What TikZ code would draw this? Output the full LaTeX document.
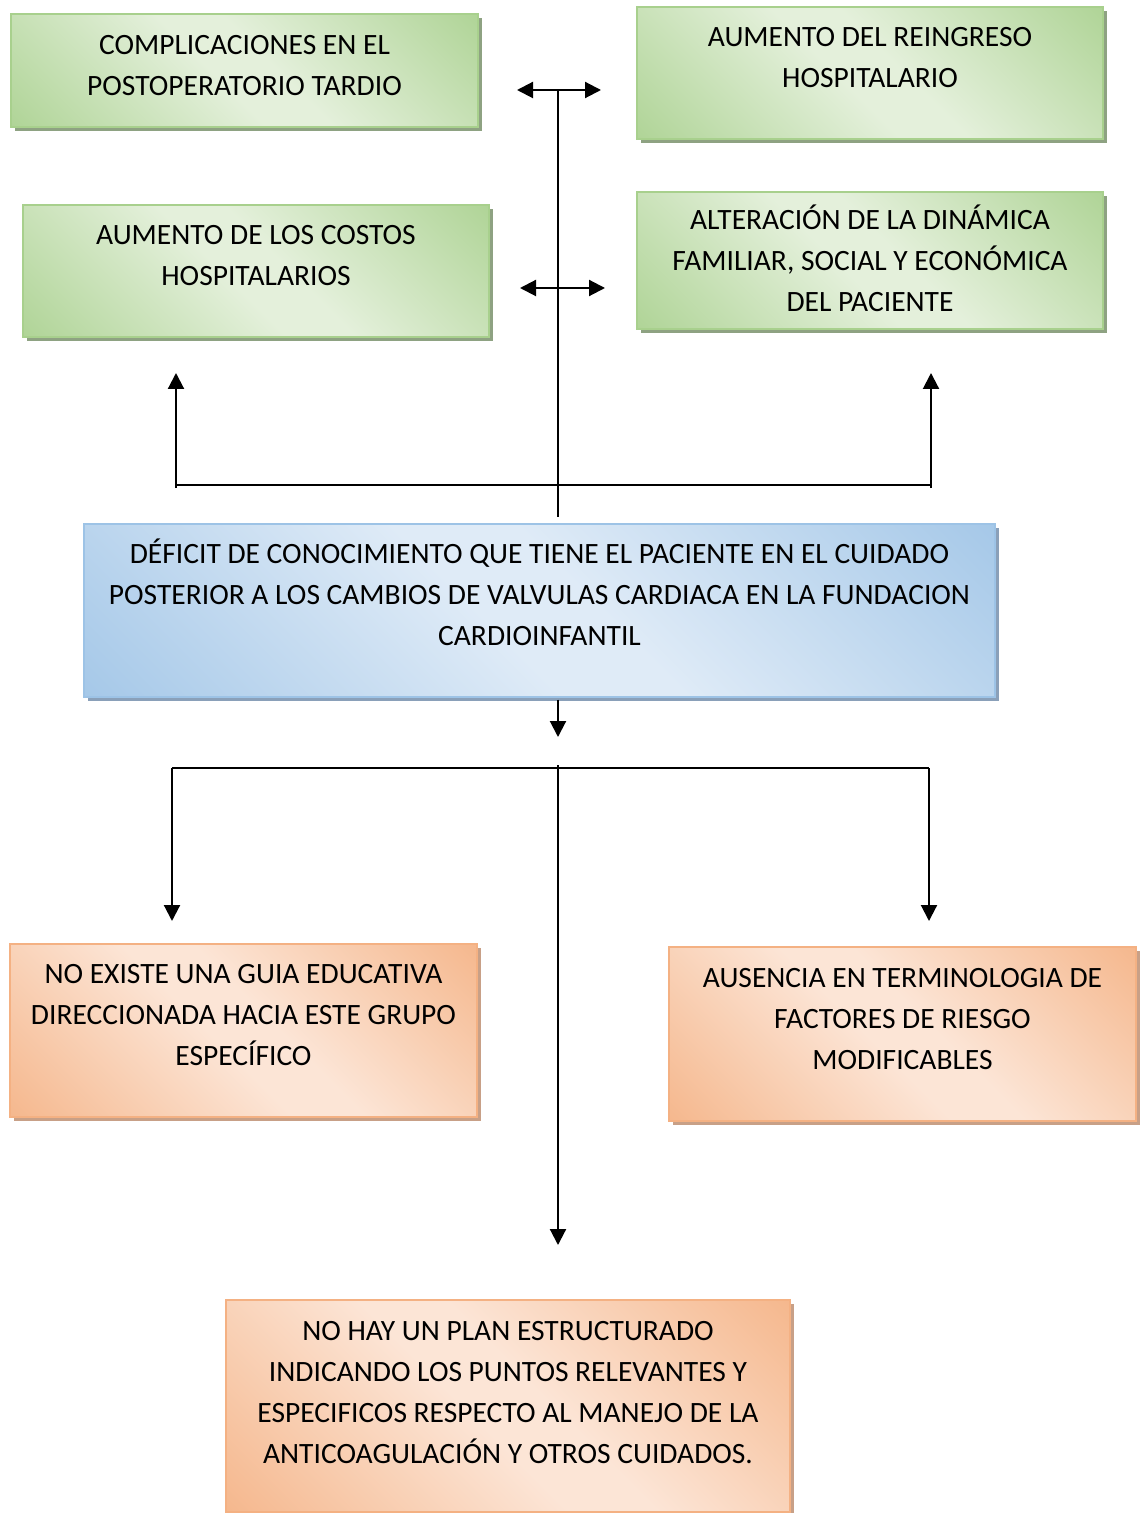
\documentclass[tikz,border=0pt]{standalone}
\usepackage{fontspec}
\setmainfont{Carlito}
\usetikzlibrary{arrows.meta,shadows}

% palette
\definecolor{gDark}{RGB}{168,208,141}
\definecolor{gLight}{RGB}{228,240,219}
\definecolor{gShadow}{RGB}{142,162,130}
\definecolor{bDark}{RGB}{157,195,230}
\definecolor{bLight}{RGB}{223,235,247}
\definecolor{bShadow}{RGB}{138,160,185}
\definecolor{oDark}{RGB}{244,177,131}
\definecolor{oLight}{RGB}{252,229,214}
\definecolor{oShadow}{RGB}{200,160,135}

% diagonal fades: dark corners, light middle band
\pgfdeclarehorizontalshading{greenfade}{100bp}{color(0bp)=(gDark); color(10bp)=(gDark); color(46bp)=(gLight); color(54bp)=(gLight); color(90bp)=(gDark); color(100bp)=(gDark)}
\pgfdeclarehorizontalshading{bluefade}{100bp}{color(0bp)=(bDark); color(10bp)=(bDark); color(46bp)=(bLight); color(54bp)=(bLight); color(90bp)=(bDark); color(100bp)=(bDark)}
\pgfdeclarehorizontalshading{orangefade}{100bp}{color(0bp)=(oDark); color(10bp)=(oDark); color(46bp)=(oLight); color(54bp)=(oLight); color(90bp)=(oDark); color(100bp)=(oDark)}

% top-aligned text block: first-baseline offset, width, height, lines
\newcommand\boxtext[4]{\parbox[t][#3][t]{#2}{\centering\rule{0pt}{#1}#4}}

\tikzset{
  panel/.style={rectangle, inner sep=0pt, line width=0.6pt, shading angle=45,
    font=\fontsize{14.75}{20.5}\selectfont},
  greenbox/.style={panel, draw=gDark, shading=greenfade,
    drop shadow={shadow xshift=2pt, shadow yshift=-2pt, opacity=1, fill=gShadow}},
  bluebox/.style={panel, draw=bDark, shading=bluefade,
    drop shadow={shadow xshift=2pt, shadow yshift=-2pt, opacity=1, fill=bShadow}},
  orangebox/.style={panel, draw=oDark, shading=orangefade,
    drop shadow={shadow xshift=2pt, shadow yshift=-2pt, opacity=1, fill=oShadow}},
  wire/.style={line width=1.05pt, black},
  arr/.style={wire, -{Triangle[length=8pt,width=8pt]}},
  dblarr/.style={wire, {Triangle[length=8pt,width=8pt]}-{Triangle[length=8pt,width=8pt]}}
}

\begin{document}
\begin{tikzpicture}[x=0.5pt,y=-0.5pt]
\useasboundingbox (0,0) rectangle (1147,1513);

% consequences
\node[greenbox] (c1) at (244.5,70.5) {\boxtext{20.5pt}{233.5pt}{56.5pt}{COMPLICACIONES EN EL\\POSTOPERATORIO TARDIO}};
\node[greenbox] (c2) at (870,73) {\boxtext{20pt}{233pt}{66pt}{AUMENTO DEL REINGRESO\\HOSPITALARIO}};
\node[greenbox] (c3) at (256,271) {\boxtext{20pt}{233pt}{66pt}{AUMENTO DE LOS COSTOS\\HOSPITALARIOS}};
\node[greenbox] (c4) at (870,260.5) {\boxtext{19pt}{233pt}{68.5pt}{ALTERACIÓN DE LA DINÁMICA\\FAMILIAR, SOCIAL Y ECONÓMICA\\DEL PACIENTE}};

% central problem
\node[bluebox] (prob) at (539.5,610.5) {\boxtext{19.5pt}{455.5pt}{86.5pt}{DÉFICIT DE CONOCIMIENTO QUE TIENE EL PACIENTE EN EL CUIDADO\\POSTERIOR A LOS CAMBIOS DE VALVULAS CARDIACA EN LA FUNDACION\\CARDIOINFANTIL}};

% causes
\node[orangebox] (k1) at (243.5,1030.5) {\boxtext{19.5pt}{233.5pt}{86.5pt}{NO EXISTE UNA GUIA EDUCATIVA\\DIRECCIONADA HACIA ESTE GRUPO\\ESPECÍFICO}};
\node[orangebox] (k2) at (902.5,1034) {\boxtext{20pt}{233.5pt}{87pt}{AUSENCIA EN TERMINOLOGIA DE\\FACTORES DE RIESGO\\MODIFICABLES}};
\node[orangebox] (k3) at (508,1406) {\boxtext{20pt}{282pt}{106pt}{NO HAY UN PLAN ESTRUCTURADO\\INDICANDO LOS PUNTOS RELEVANTES Y\\ESPECIFICOS RESPECTO AL MANEJO DE LA\\ANTICOAGULACIÓN Y OTROS CUIDADOS.}};

% upper connectors
\coordinate (hubA) at (558,90);
\coordinate (aL) at (517,90);
\coordinate (aR) at (601,90);
\coordinate (bL) at (520,288);
\coordinate (bR) at (605,288);
\coordinate (upL) at (176,485);
\coordinate (upR) at (931,485);
\coordinate (upLtip) at (176,373);
\coordinate (upRtip) at (931,373);

\draw[wire] (hubA) -- ([yshift=3pt]prob.north -| hubA);
\draw[dblarr] (aL) -- (aR);
\draw[dblarr] (bL) -- (bR);
\draw[wire] (upL) -- (upR);
\draw[arr] ([yshift=-1.5pt]upL) -- (upLtip);
\draw[arr] ([yshift=-1.5pt]upR) -- (upRtip);

% lower connectors
\coordinate (dTip) at (558,737);
\coordinate (sL) at (172,768);
\coordinate (sR) at (929,768);
\coordinate (sTop) at (558,765);
\coordinate (sLtip) at (172,921);
\coordinate (sRtip) at (929,921);
\coordinate (sMtip) at (558,1245);

\draw[arr] ([yshift=-1pt]prob.south -| hubA) -- (dTip);
\draw[wire] (sL) -- (sR);
\draw[arr] (sL) -- (sLtip);
\draw[arr] (sR) -- (sRtip);
\draw[arr] (sTop) -- (sMtip);
\end{tikzpicture}
\end{document}
